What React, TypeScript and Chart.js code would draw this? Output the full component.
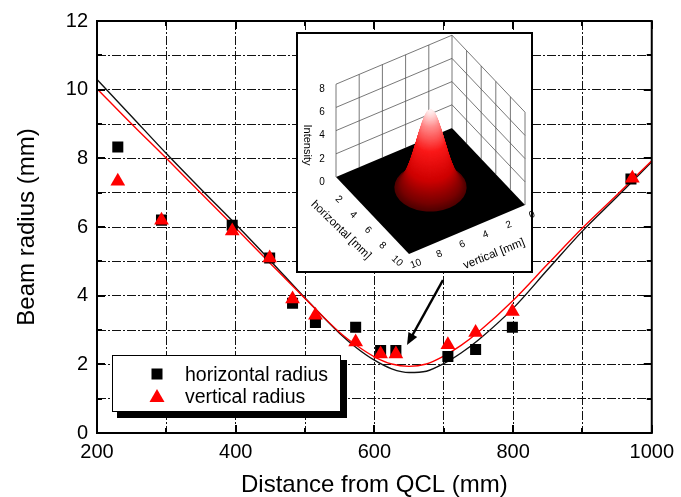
import React, { useEffect, useRef } from "react";
import { Chart, registerables } from "chart.js";
Chart.register(...registerables);

const FONT = "'Liberation Sans', Arial, Helvetica, sans-serif";

// measured points
const horizontalX = [230, 293, 395, 449, 482, 515, 573, 609, 631, 706, 746, 799, 970];
const horizontalY = [8.33, 6.2, 6.05, 5.1, 3.78, 3.22, 3.08, 2.4, 2.4, 2.23, 2.43, 3.08, 7.4];
const verticalX = [230, 293, 395, 449, 482, 515, 573, 609, 631, 706, 746, 799, 972];
const verticalY = [7.33, 6.2, 5.88, 5.1, 3.9, 3.43, 2.65, 2.3, 2.3, 2.57, 2.93, 3.54, 7.42];

// fitted curves
const fitX = [200, 250, 300, 350, 400, 450, 500, 550, 575, 600, 625, 650, 675, 700, 725, 750, 800, 850, 900, 950, 1000];
const fitHorizontal = [10.3, 9.22, 8.14, 7.1, 6.08, 5.02, 3.93, 2.9, 2.47, 2.12, 1.87, 1.76, 1.8, 2.02, 2.33, 2.71, 3.63, 4.76, 5.88, 6.88, 7.9];
const fitVertical = [10.03, 9.0, 8.0, 6.98, 5.97, 4.94, 3.92, 2.93, 2.54, 2.22, 2.01, 1.94, 2.01, 2.24, 2.55, 2.94, 3.86, 4.92, 5.97, 6.94, 7.93];

const xMajorTicks = [200, 400, 600, 800, 1000];
const yMajorTicks = [0, 2, 4, 6, 8, 10, 12];

const legendLabels = ["horizontal radius", "vertical radius"];
const insetZTicks = [0, 2, 4, 6, 8];
const insetHTicks = [2, 4, 6, 8, 10];
const insetVTicks = [0, 2, 4, 6, 8, 10];

function pts(xs: number[], ys: number[]) {
  return xs.map((x, i) => ({ x, y: ys[i] }));
}

function lerpColor(t: number) {
  const stops: [number, number[]][] = [
    [0, [50, 0, 0]],
    [0.1, [120, 0, 0]],
    [0.3, [205, 0, 0]],
    [0.6, [250, 25, 25]],
    [0.85, [255, 140, 140]],
    [1, [255, 245, 245]],
  ];
  for (let i = 1; i < stops.length; i++) {
    if (t <= stops[i][0]) {
      const [t0, c0] = stops[i - 1];
      const [t1, c1] = stops[i];
      const f = (t - t0) / (t1 - t0);
      const c = c0.map((v, k) => Math.round(v + (c1[k] - v) * f));
      return `rgb(${c[0]},${c[1]},${c[2]})`;
    }
  }
  return "rgb(255,245,245)";
}

function drawInset(ctx: CanvasRenderingContext2D) {
  const bx = 297, by = 33, bw = 235, bh = 239;
  ctx.save();
  ctx.fillStyle = "#fff";
  ctx.fillRect(bx, by, bw, bh);
  ctx.lineWidth = 2;
  ctx.strokeStyle = "#000";
  ctx.strokeRect(bx, by, bw, bh);

  const B = { x: 452, y: 128 };
  const hx = 7.3, hy = 7.7, vx = -11.6, vy = 4.9, zs = 11.6;
  const P = (h: number, v: number, z = 0) => ({ x: B.x + h * hx + v * vx, y: B.y + h * hy + v * vy - z * zs });
  const poly = (ps: { x: number; y: number }[]) => {
    ctx.beginPath();
    ps.forEach((p, i) => (i ? ctx.lineTo(p.x, p.y) : ctx.moveTo(p.x, p.y)));
    ctx.closePath();
  };
  const line = (a: { x: number; y: number }, b: { x: number; y: number }) => {
    ctx.beginPath();
    ctx.moveTo(a.x, a.y);
    ctx.lineTo(b.x, b.y);
    ctx.stroke();
  };

  // walls
  ctx.fillStyle = "#fff";
  poly([P(0, 0), P(0, 10), P(0, 10, 8), P(0, 0, 8)]);
  ctx.fill();
  poly([P(0, 0), P(10, 0), P(10, 0, 8), P(0, 0, 8)]);
  ctx.fill();
  ctx.strokeStyle = "#555";
  ctx.lineWidth = 0.8;
  for (const z of [2, 4, 6, 8]) {
    line(P(0, 10, z), P(0, 0, z));
    line(P(0, 0, z), P(10, 0, z));
  }
  for (const k of [2, 4, 6, 8, 10]) {
    line(P(0, k, 0), P(0, k, 8));
    line(P(k, 0, 0), P(k, 0, 8));
  }
  line(P(0, 0, 0), P(0, 0, 8));

  // floor
  ctx.fillStyle = "#000";
  poly([P(0, 0), P(10, 0), P(10, 10), P(0, 10)]);
  ctx.fill();

  // gaussian peak: slices from bottom to top
  const A = 7, sigma = 1.05;
  const c = P(5, 5);
  for (let z = 0.3; z <= A - 0.02; z += 0.04) {
    const r = sigma * Math.sqrt(2 * Math.log(A / z));
    ctx.save();
    ctx.translate(c.x, c.y - z * zs);
    ctx.transform(hx, hy, vx, vy, 0, 0);
    ctx.beginPath();
    ctx.arc(0, 0, Math.min(r, 4.8), 0, Math.PI * 2);
    ctx.restore();
    ctx.fillStyle = lerpColor(z / A);
    ctx.fill();
  }

  // labels
  ctx.fillStyle = "#000";
  ctx.font = `10px ${FONT}`;
  ctx.textAlign = "center";
  ctx.textBaseline = "middle";
  for (const z of insetZTicks) {
    const p = P(0, 10, z);
    ctx.fillText(String(z), p.x - 14, p.y + 5);
  }
  for (const h of insetHTicks) {
    const p = P(h, 10, 0);
    ctx.save();
    ctx.translate(p.x - 12, p.y + 7);
    ctx.rotate(0.75);
    ctx.fillText(String(h), 0, 0);
    ctx.restore();
  }
  for (const v of insetVTicks) {
    const p = P(10, v, 0);
    ctx.save();
    ctx.translate(p.x + 7, p.y + 10);
    ctx.rotate(-0.38);
    ctx.fillText(String(v), 0, 0);
    ctx.restore();
  }
  ctx.font = `11px ${FONT}`;
  ctx.save();
  ctx.translate(307, 145);
  ctx.rotate(Math.PI / 2);
  ctx.fillText("Intensity", 0, 0);
  ctx.restore();
  ctx.font = `11.5px ${FONT}`;
  ctx.save();
  ctx.translate(341, 230);
  ctx.rotate(0.77);
  ctx.fillText("horizontal [mm]", 0, 0);
  ctx.restore();
  ctx.save();
  ctx.translate(494, 254);
  ctx.rotate(-0.38);
  ctx.fillText("vertical [mm]", 0, 0);
  ctx.restore();
  ctx.restore();
}

const overlayPlugin = {
  id: "overlay",
  afterDraw(chart: any) {
    const ctx: CanvasRenderingContext2D = chart.ctx;
    const { left, right, top, bottom } = chart.chartArea;
    const xs = chart.scales.x;
    const ys = chart.scales.y;
    ctx.save();
    // frame
    ctx.strokeStyle = "#000";
    ctx.lineWidth = 2;
    ctx.setLineDash([]);
    ctx.strokeRect(left, top, right - left, bottom - top);
    // inward ticks
    for (let v = 200; v <= 1000; v += 100) {
      const px = Math.round(xs.getPixelForValue(v));
      const len = xMajorTicks.includes(v) ? 8 : 5;
      ctx.beginPath();
      ctx.moveTo(px, bottom);
      ctx.lineTo(px, bottom - len);
      ctx.moveTo(px, top);
      ctx.lineTo(px, top + len);
      ctx.stroke();
    }
    for (let v = 0; v <= 12; v += 1) {
      const py = Math.round(ys.getPixelForValue(v));
      const len = yMajorTicks.includes(v) ? 8 : 5;
      ctx.beginPath();
      ctx.moveTo(left, py);
      ctx.lineTo(left + len, py);
      ctx.moveTo(right, py);
      ctx.lineTo(right - len, py);
      ctx.stroke();
    }

    // legend
    ctx.fillStyle = "#000";
    ctx.fillRect(117, 360, 230, 58);
    ctx.fillStyle = "#fff";
    ctx.fillRect(112, 355, 229, 57);
    ctx.lineWidth = 1;
    ctx.strokeStyle = "#000";
    ctx.strokeRect(112.5, 355.5, 228, 56);
    ctx.fillStyle = "#000";
    ctx.fillRect(151.5, 368.5, 11, 11);
    ctx.fillStyle = "#f00";
    ctx.beginPath();
    ctx.moveTo(157, 389);
    ctx.lineTo(164.5, 402);
    ctx.lineTo(149.5, 402);
    ctx.closePath();
    ctx.fill();
    ctx.fillStyle = "#000";
    ctx.font = `19.5px ${FONT}`;
    ctx.textAlign = "left";
    ctx.textBaseline = "alphabetic";
    ctx.fillText(legendLabels[0], 185, 381);
    ctx.fillText(legendLabels[1], 185, 403);

    // inset
    drawInset(ctx);

    // arrow
    ctx.strokeStyle = "#000";
    ctx.fillStyle = "#000";
    ctx.lineWidth = 2.5;
    const x1 = 443, y1 = 280, x2 = 407, y2 = 345;
    const ang = Math.atan2(y2 - y1, x2 - x1);
    ctx.beginPath();
    ctx.moveTo(x1, y1);
    ctx.lineTo(x2 - 8 * Math.cos(ang), y2 - 8 * Math.sin(ang));
    ctx.stroke();
    ctx.beginPath();
    ctx.moveTo(x2, y2);
    ctx.lineTo(x2 - 12 * Math.cos(ang) + 5 * Math.sin(ang), y2 - 12 * Math.sin(ang) - 5 * Math.cos(ang));
    ctx.lineTo(x2 - 12 * Math.cos(ang) - 5 * Math.sin(ang), y2 - 12 * Math.sin(ang) + 5 * Math.cos(ang));
    ctx.closePath();
    ctx.fill();
    ctx.restore();
  },
};

export default function App() {
  const ref = useRef<HTMLCanvasElement>(null);
  useEffect(() => {
    const gridDash = [9, 2, 2, 2];
    const chart = new Chart(ref.current as HTMLCanvasElement, {
      type: "scatter",
      data: {
        datasets: [
          {
            label: "fit horizontal",
            data: pts(fitX, fitHorizontal),
            showLine: true,
            borderColor: "#111",
            borderWidth: 1.4,
            pointRadius: 0,
            cubicInterpolationMode: "monotone",
            order: 3,
          } as any,
          {
            label: "fit vertical",
            data: pts(fitX, fitVertical),
            showLine: true,
            borderColor: "#ff0000",
            borderWidth: 1.4,
            pointRadius: 0,
            cubicInterpolationMode: "monotone",
            order: 2,
          } as any,
          {
            label: legendLabels[0],
            data: pts(horizontalX, horizontalY),
            pointStyle: "rect",
            pointRadius: 7.8,
            backgroundColor: "#000",
            borderWidth: 0,
            order: 1,
          },
          {
            label: legendLabels[1],
            data: pts(verticalX, verticalY),
            pointStyle: "triangle",
            pointRadius: 8.5,
            backgroundColor: "#ff0000",
            borderWidth: 0,
            order: 0,
          },
        ],
      },
      options: {
        responsive: false,
        animation: false,
        devicePixelRatio: 1,
        layout: { padding: { top: 19, right: 25, left: 0, bottom: 0 } },
        plugins: { legend: { display: false }, tooltip: { enabled: false } },
        scales: {
          x: {
            type: "linear",
            min: 200,
            max: 1000,
            afterFit: (s: any) => {
              s.height = 64;
            },
            ticks: {
              stepSize: 100,
              padding: 7,
              color: "#000",
              font: { family: FONT, size: 20 },
              maxRotation: 0,
              autoSkip: false,
              callback: (v: any) => (xMajorTicks.includes(Number(v)) ? String(v) : ""),
            },
            grid: { color: "#111", lineWidth: 1, drawTicks: false },
            border: { display: false, dash: gridDash },
            title: {
              display: true,
              text: "Distance from QCL (mm)",
              color: "#000",
              font: { family: FONT, size: 24, lineHeight: 1 },
              padding: { top: 0, bottom: 0 },
            },
          },
          y: {
            type: "linear",
            min: 0,
            max: 12,
            afterFit: (s: any) => {
              s.width = 97;
            },
            ticks: {
              stepSize: 1,
              padding: 9,
              color: "#000",
              font: { family: FONT, size: 20 },
              autoSkip: false,
              callback: (v: any) => (yMajorTicks.includes(Number(v)) ? String(v) : ""),
            },
            grid: { color: "#111", lineWidth: 1, drawTicks: false },
            border: { display: false, dash: gridDash },
            title: {
              display: true,
              text: "Beam radius (mm)",
              color: "#000",
              font: { family: FONT, size: 24, lineHeight: 1 },
              padding: { top: 15, bottom: 0 },
            },
          },
        },
      },
      plugins: [overlayPlugin],
    } as any);
    return () => chart.destroy();
  }, []);
  return (
    <div style={{ position: "absolute", left: 0, top: 0, width: 681, height: 497, background: "#fff" }}>
      <canvas ref={ref} width={681} height={497} style={{ display: "block", width: 681, height: 497 }} />
    </div>
  );
}
